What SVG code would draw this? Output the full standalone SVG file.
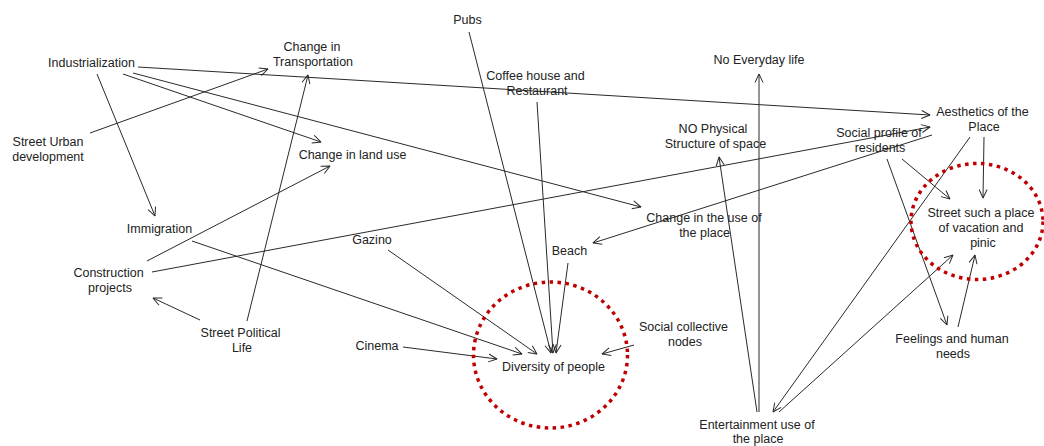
<svg xmlns="http://www.w3.org/2000/svg" width="1044" height="446" viewBox="0 0 1044 446">
<style>
text{font-family:"Liberation Sans",Arial,sans-serif;font-size:12.5px;fill:#222;text-anchor:middle}
.c line{stroke:#2a2a2a;stroke-width:1;fill:none}
.a{marker-end:url(#arr)}
.ring{fill:none;stroke:#c00000;stroke-width:3.5;stroke-dasharray:3.5 4.5}
</style>
<defs>
<marker id="arr" viewBox="0 0 10 10" refX="9.5" refY="5" markerWidth="10" markerHeight="10" markerUnits="userSpaceOnUse" orient="auto">
<path d="M1,1 L9.5,5 L1,9" fill="none" stroke="#2a2a2a" stroke-width="1"/>
</marker>
</defs>
<rect width="1044" height="446" fill="#fff"/>
<g class="c" id="connectors">
<line class="a" x1="138" y1="67" x2="930" y2="115"/>
<line class="a" x1="123" y1="74" x2="321" y2="142"/>
<line class="a" x1="133" y1="73" x2="641" y2="207"/>
<line class="a" x1="97" y1="74" x2="155" y2="216"/>
<line class="a" x1="90" y1="133" x2="268" y2="69"/>
<line class="a" x1="247" y1="321" x2="308" y2="75"/>
<line class="a" x1="200" y1="320" x2="153" y2="298"/>
<line class="a" x1="147" y1="261" x2="330" y2="166"/>
<line class="a" x1="152" y1="272" x2="930" y2="127"/>
<line class="a" x1="932" y1="135" x2="593" y2="243"/>
<line class="a" x1="192" y1="241" x2="522" y2="354"/>
<line class="a" x1="388" y1="250" x2="537" y2="354"/>
<line class="a" x1="403" y1="347" x2="497" y2="359"/>
<line class="a" x1="469" y1="32" x2="551" y2="353"/>
<line class="a" x1="537" y1="102" x2="553" y2="353"/>
<line class="a" x1="568" y1="263" x2="556" y2="353"/>
<line class="a" x1="634" y1="345" x2="602" y2="354"/>
<line class="a" x1="759" y1="412" x2="759" y2="74"/>
<line class="a" x1="757" y1="412" x2="719" y2="157"/>
<line class="a" x1="970" y1="137" x2="773" y2="412"/>
<line class="a" x1="779" y1="412" x2="953" y2="255"/>
<line class="a" x1="984" y1="137" x2="983" y2="198"/>
<line class="a" x1="902" y1="159" x2="950" y2="199"/>
<line class="a" x1="887" y1="159" x2="947" y2="325"/>
<line class="a" x1="958" y1="327" x2="975" y2="255"/>
</g>
<g id="industrialization"><text x="91.5" y="67">Industrialization</text></g>
<g id="transportation"><text x="312" y="51">Change in</text><text x="313" y="66">Transportation</text></g>
<g id="urban"><text x="48" y="146">Street Urban</text><text x="48" y="161">development</text></g>
<g id="pubs"><text x="467.5" y="24">Pubs</text></g>
<g id="coffee"><text x="535.5" y="80">Coffee house and</text><text x="537" y="95">Restaurant</text></g>
<g id="landuse"><text x="352.5" y="159">Change in land use</text></g>
<g id="everyday"><text x="759" y="64">No Everyday life</text></g>
<g id="aesthetics"><text x="982.5" y="116">Aesthetics of the</text><text x="984" y="131">Place</text></g>
<g id="physical"><text x="713" y="133">NO Physical</text><text x="715.5" y="148">Structure of space</text></g>
<g id="social-profile"><text x="879" y="137">Social profile of</text><text x="880" y="152">residents</text></g>
<g id="immigration"><text x="159.5" y="233">Immigration</text></g>
<g id="construction"><text x="108.5" y="277">Construction</text><text x="110" y="292">projects</text></g>
<g id="political"><text x="240.5" y="337">Street Political</text><text x="242" y="352">Life</text></g>
<g id="gazino"><text x="372" y="244">Gazino</text></g>
<g id="beach"><text x="569.5" y="255">Beach</text></g>
<g id="use-place"><text x="704" y="222">Change in the use of</text><text x="704.5" y="237">the place</text></g>
<g id="vacation"><text x="981" y="217">Street such a place</text><text x="981" y="232">of vacation and</text><text x="983" y="247">pinic</text></g>
<g id="cinema"><text x="377" y="350">Cinema</text></g>
<g id="diversity"><text x="553.5" y="371">Diversity of people</text></g>
<g id="collective"><text x="683.5" y="331">Social collective</text><text x="685" y="346">nodes</text></g>
<g id="feelings"><text x="952" y="343">Feelings and human</text><text x="953" y="358">needs</text></g>
<g id="entertainment"><text x="757" y="429">Entertainment use of</text><text x="758" y="443">the place</text></g>
<g id="highlights">
<ellipse class="ring" cx="550.5" cy="355" rx="77" ry="73"/>
<ellipse class="ring" cx="977" cy="221.5" rx="66" ry="58"/>
</g>
</svg>
